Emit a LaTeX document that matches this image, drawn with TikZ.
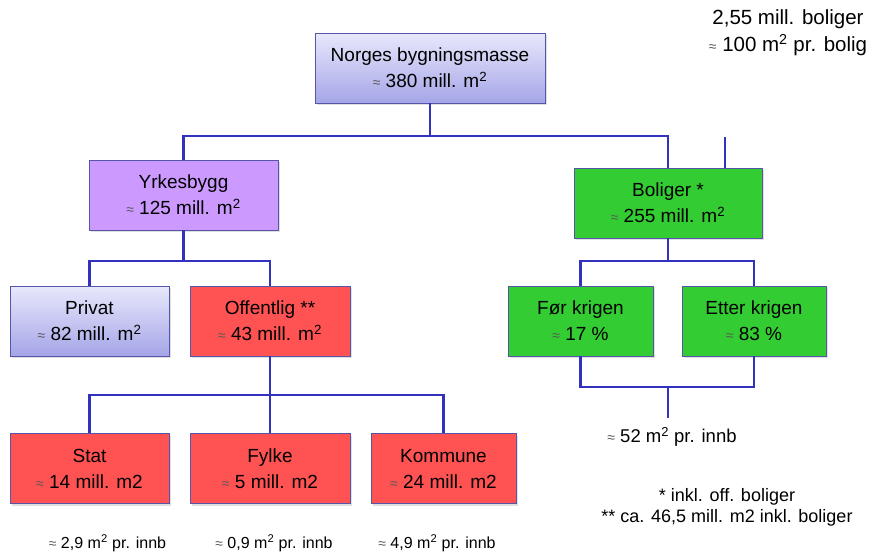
\documentclass[tikz,border=0pt]{standalone}
\usepackage{fontspec}
\setmainfont{Liberation Sans}
\usetikzlibrary{positioning,calc,shadows}
\definecolor{LinkBlue}{RGB}{50,50,190}
\definecolor{EdgeBlue}{RGB}{85,85,170}
\definecolor{LavTop}{RGB}{232,232,252}
\definecolor{LavBot}{RGB}{165,165,232}
\definecolor{Lilac}{RGB}{204,153,255}
\definecolor{BoxRed}{RGB}{255,82,82}
\definecolor{BoxGreen}{RGB}{51,204,51}
\newcommand{\apx}{{\fontsize{14}{14}\selectfont\color{black!65}≈}}
\newcommand{\sq}{m\textsuperscript{2}}
\tikzset{
  box/.style={draw=EdgeBlue,line width=0.8pt,minimum height=70pt,inner sep=0pt,
    align=center,font=\fontsize{19}{26}\selectfont,
    drop shadow={shadow xshift=1.5pt,shadow yshift=-2pt,opacity=0.25}},
  lav/.style={box,top color=LavTop,bottom color=LavBot},
  lilac/.style={box,fill=Lilac},
  red/.style={box,fill=BoxRed},
  green/.style={box,fill=BoxGreen},
  link/.style={draw=LinkBlue,line width=2.4pt},
  note/.style={align=center,inner sep=1pt},
}

\begin{document}
\begin{tikzpicture}[x=1pt,y=-1pt]
\useasboundingbox (0,0) rectangle (876,552);
% boxes
\node[lav,minimum width=230pt] (top) at (430,68) {Norges bygningsmasse\\ \apx\ 380 mill. \sq};
\node[lilac,minimum width=189pt] (yrke) at (183.5,195) {Yrkesbygg\\ \apx\ 125 mill. \sq};
\node[green,minimum width=188pt] (bolig) at (668,203) {Boliger *\\ \apx\ 255 mill. \sq};
\node[lav,minimum width=159pt] (privat) at (89.5,321) {Privat\\ \apx\ 82 mill. \sq};
\node[red,minimum width=160pt] (offentlig) at (270,321) {Offentlig **\\ \apx\ 43 mill. \sq};
\node[green,minimum width=145pt] (forkrig) at (580.5,321) {Før krigen\\ \apx\ 17 \%};
\node[green,minimum width=144pt] (etterkrig) at (754,321) {Etter krigen\\ \apx\ 83 \%};
\node[red,minimum width=159pt] (stat) at (89.5,468.5) {Stat\\ \apx\ 14 mill. m2};
\node[red,minimum width=160pt] (fylke) at (270,468.5) {Fylke\\ \apx\ 5 mill. m2};
\node[red,minimum width=145pt] (kommune) at (443.5,468.5) {Kommune\\ \apx\ 24 mill. m2};
% texts
\node[note,font=\fontsize{20.5}{27}\selectfont] (boliger) at (788,33) {2,55 mill. boliger\\ \apx\ 100 \sq\ pr. bolig};
\node[note,font=\fontsize{18.5}{18}\selectfont] (innb) at (672,437) {\apx\ 52 \sq\ pr. innb};
\node[note,font=\fontsize{16}{16}\selectfont] (innbstat) at (107.5,543) {\apx\ 2,9 \sq\ pr. innb};
\node[note,font=\fontsize{16}{16}\selectfont] (innbfylke) at (274,543) {\apx\ 0,9 \sq\ pr. innb};
\node[note,font=\fontsize{16}{16}\selectfont] (innbkommune) at (437,543) {\apx\ 4,9 \sq\ pr. innb};
\node[note,font=\fontsize{18}{21}\selectfont] (fotnote) at (727,507) {* inkl. off. boliger\\ ** ca. 46,5 mill. m2 inkl. boliger};
% connectors
\coordinate (b1) at (430,136);
\coordinate (b2) at (183.5,261);
\coordinate (b3) at (668,261);
\coordinate (b4) at (668,387);
\coordinate (b5) at (270,395);
\coordinate (b6) at (668,418);
\coordinate (stub) at (725,137);
\draw[link] (top.south) -- (b1);
\draw[link] (yrke.north) |- (b1) -| (bolig.north);
\draw[link] (stub) -- (stub |- bolig.north);
\draw[link] (yrke.south) -- (b2);
\draw[link] (privat.north) |- (b2) -| (offentlig.north);
\draw[link] (bolig.south) -- (b3);
\draw[link] (forkrig.north) |- (b3) -| (etterkrig.north);
\draw[link] (forkrig.south) |- (b4) -| (etterkrig.south);
\draw[link] (b4) -- (b6);
\draw[link] (offentlig.south) -- (fylke.north);
\draw[link] (stat.north) |- (b5) -| (kommune.north);
\end{tikzpicture}
\end{document}
